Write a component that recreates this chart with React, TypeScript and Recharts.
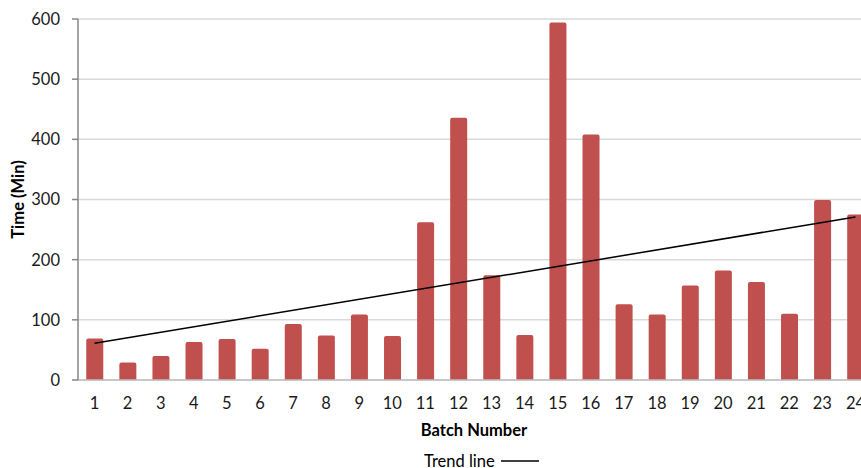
import {
  Bar,
  CartesianGrid,
  ComposedChart,
  Label,
  Line,
  XAxis,
  YAxis,
} from "recharts";

const batches = [
  "1", "2", "3", "4", "5", "6", "7", "8", "9", "10", "11", "12",
  "13", "14", "15", "16", "17", "18", "19", "20", "21", "22", "23", "24",
];

const times = [
  69, 29, 40, 63, 68, 52, 93, 74, 109, 73, 262, 436,
  174, 75, 594, 408, 126, 109, 157, 182, 163, 110, 299, 275,
];

// fitted trend, only its two ends are drawn
const trendStart = 61;
const trendEnd = 271;

const yTicks = [0, 100, 200, 300, 400, 500, 600];

const chartData = batches.map((batch, i) => ({
  batch,
  time: times[i],
  trend: i === 0 ? trendStart : i === batches.length - 1 ? trendEnd : null,
}));

const font = "Lato, 'Open Sans', sans-serif";
const tickStyle = { fill: "#1a1a1a", fontSize: 16.5, fontFamily: font };

export default function App() {
  return (
    <div
      style={{
        position: "fixed",
        left: 0,
        top: 0,
        width: 861,
        height: 468,
        overflow: "hidden",
        background: "#fff",
      }}
    >
      <ComposedChart
        width={900}
        height={468}
        data={chartData}
        margin={{ top: 19, right: 28, left: 0, bottom: 0 }}
        barCategoryGap="25%"
      >
        <CartesianGrid vertical={false} stroke="#d9d9d9" strokeWidth={1.5} />
        <XAxis
          dataKey="batch"
          height={88}
          tick={tickStyle}
          tickLine={false}
          tickSize={6}
          tickMargin={11}
          axisLine={{ stroke: "#bfbfbf", strokeWidth: 1.5 }}
          interval={0}
        >
          <Label
            content={() => (
              <text
                x={474}
                y={430}
                textAnchor="middle"
                dominantBaseline="central"
                style={{ fontFamily: font, fontSize: 16.5, fontWeight: 700, fill: "#000" }}
              >
                Batch Number
              </text>
            )}
          />
        </XAxis>
        <YAxis
          width={78}
          domain={[0, 600]}
          ticks={yTicks}
          tick={tickStyle}
          tickSize={6}
          tickMargin={12}
          tickLine={{ stroke: "#868686", strokeWidth: 1.5 }}
          axisLine={{ stroke: "#868686", strokeWidth: 1.5 }}
        >
          <Label
            content={() => (
              <text
                transform="translate(18,199.5) rotate(-90)"
                textAnchor="middle"
                dominantBaseline="central"
                style={{ fontFamily: font, fontSize: 16.5, fontWeight: 700, fill: "#000" }}
              >
                Time (Min)
              </text>
            )}
          />
        </YAxis>
        <Bar dataKey="time" fill="#C0504D" radius={[2, 2, 0, 0]} isAnimationActive={false} />
        <Line
          dataKey="trend"
          stroke="#000"
          strokeWidth={1.5}
          dot={false}
          connectNulls
          isAnimationActive={false}
        />
      </ComposedChart>
      <div
        style={{
          position: "absolute",
          left: 424,
          top: 449,
          display: "flex",
          alignItems: "center",
          gap: 6,
          fontFamily: font,
          fontSize: 16.5,
          color: "#000",
          lineHeight: "24px",
          whiteSpace: "nowrap",
        }}
      >
        <span>Trend line</span>
        <svg width={38} height={4}>
          <line x1={0} y1={2} x2={38} y2={2} stroke="#000" strokeWidth={1.5} />
        </svg>
      </div>
    </div>
  );
}
